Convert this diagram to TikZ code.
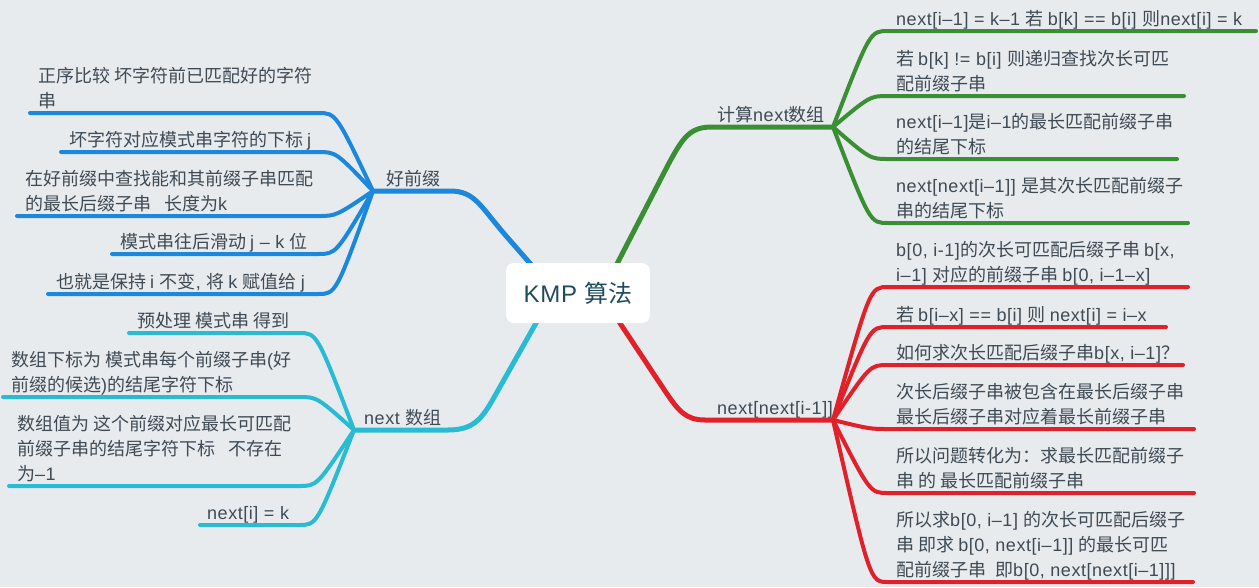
\documentclass[tikz,border=0pt]{standalone}
\usepackage{fontspec}
\setmainfont{Liberation Sans}[LetterSpace=3]
\newfontfamily\cjkf{Noto Sans CJK SC}
\newfontfamily\latinf{Liberation Sans}[LetterSpace=3]
\newXeTeXintercharclass\mycjk
\makeatletter
\count@="4E00
\loop\XeTeXcharclass\count@=\mycjk\advance\count@\@ne\ifnum\count@<"A000\repeat
\count@="3000
\loop\XeTeXcharclass\count@=\mycjk\advance\count@\@ne\ifnum\count@<"3040\repeat
\count@="FF00
\loop\XeTeXcharclass\count@=\mycjk\advance\count@\@ne\ifnum\count@<"FFF0\repeat
\makeatother
\XeTeXinterchartoks 0 \mycjk = {\cjkf}
\XeTeXinterchartoks 4095 \mycjk = {\cjkf}
\XeTeXinterchartoks \mycjk 0 = {\latinf}
\XeTeXinterchartoks 4095 0 = {\latinf}
\XeTeXinterchartokenstate=1
\pgfdeclarelayer{back}
\pgfdeclarelayer{mid}
\pgfsetlayers{back,mid,main}
\definecolor{bgc}{HTML}{E8EBEE}
\definecolor{txt}{HTML}{3E4A54}
\definecolor{ctxt}{HTML}{1F4B5E}
\definecolor{cblue}{HTML}{1B87DD}
\definecolor{ccyan}{HTML}{29BBD3}
\definecolor{cgreen}{HTML}{3A8E34}
\definecolor{cred}{HTML}{E0212A}
\tikzset{
  lbl/.style={anchor=south west, inner sep=0pt, align=left, text=txt,
    font=\fontsize{18}{25}\selectfont, execute at end node=\strut},
  mainline/.style={line width=5pt, line cap=round, line join=round},
  leafline/.style={line width=4pt, line cap=round, line join=round},
  kmpbox/.style={fill=white, rounded corners=8pt, minimum width=144pt,
    minimum height=60pt, inner sep=0pt, text=ctxt, font=\fontsize{24}{28}\selectfont},
}
\begin{document}
\begin{tikzpicture}[x=1pt,y=-1pt]
\begin{pgfonlayer}{back}
\fill[bgc] (0,0) rectangle (1259,587);
\end{pgfonlayer}
\useasboundingbox (0,0) rectangle (1259,587);

% central topic
\node[kmpbox] (kmp) at (578,293) {KMP 算法};

% hubs
\coordinate (hubB) at (373,191);
\coordinate (hubC) at (354,430);
\coordinate (hubG) at (833,127);
\coordinate (hubR) at (833,420);

% branch labels
\node[lbl] (tB) at (386,193.3) {好前缀};
\node[lbl] (tC) at (364,432.3) {next 数组};
\node[lbl] (tG) at (717,129.3) {计算next数组};
\node[lbl] (tR) at (717,422.3) {next[next[i-1]]};

% leaf line ends
\coordinate (b1e) at (30,113);
\coordinate (b2e) at (61,152);
\coordinate (b3e) at (17,216);
\coordinate (b4e) at (112,254);
\coordinate (b5e) at (48,294);
\coordinate (c1e) at (129,333);
\coordinate (c2e) at (3,397);
\coordinate (c3e) at (9,486);
\coordinate (c4e) at (200,525);
\coordinate (g1e) at (1256,31);
\coordinate (g2e) at (1184,96);
\coordinate (g3e) at (1177,159);
\coordinate (g4e) at (1188,223);
\coordinate (r1e) at (1188,287);
\coordinate (r2e) at (1166,327);
\coordinate (r3e) at (1183,365);
\coordinate (r4e) at (1194,429);
\coordinate (r5e) at (1194,493);
\coordinate (r6e) at (1193,582);

% leaf texts
\node[lbl] (b1) at (38,114.8) {正序比较 坏字符前已匹配好的字符\\串};
\node[lbl] (b2) at (69,153.8) {坏字符对应模式串字符的下标 j};
\node[lbl] (b3) at (25,217.8) {在好前缀中查找能和其前缀子串匹配\\的最长后缀子串 \hspace{9pt}长度为k};
\node[lbl] (b4) at (120,255.8) {模式串往后滑动 j – k 位};
\node[lbl] (b5) at (56,295.8) {也就是保持 i 不变, 将 k 赋值给 j};

\node[lbl] (c1) at (137,334.8) {预处理 模式串 得到};
\node[lbl] (c2) at (11,398.8) {数组下标为 模式串每个前缀子串(好\\前缀的候选)的结尾字符下标};
\node[lbl] (c3) at (17,487.8) {数组值为 这个前缀对应最长可匹配\\前缀子串的结尾字符下标 \hspace{9pt}不存在\\为–1};
\node[lbl] (c4) at (207,526.8) {next[i] = k};

\node[lbl] (g1) at (896,32.8) {next[i–1] = k–1 若 b[k] == b[i] 则next[i] = k};
\node[lbl] (g2) at (896,97.8) {若 b[k] != b[i] 则递归查找次长可匹\\配前缀子串};
\node[lbl] (g3) at (896,160.8) {next[i–1]是i–1的最长匹配前缀子串\\的结尾下标};
\node[lbl] (g4) at (896,224.8) {next[next[i–1]] 是其次长匹配前缀子\\串的结尾下标};

\node[lbl] (r1) at (896,288.8) {b[0, i-1]的次长可匹配后缀子串 b[x,\\i–1] 对应的前缀子串 b[0, i–1–x]};
\node[lbl] (r2) at (896,328.8) {若 b[i–x] == b[i] 则 next[i] = i–x};
\node[lbl] (r3) at (896,366.8) {如何求次长匹配后缀子串b[x, i–1]？};
\node[lbl] (r4) at (896,430.8) {次长后缀子串被包含在最长后缀子串\\最长后缀子串对应着最长前缀子串};
\node[lbl] (r5) at (896,494.8) {所以问题转化为：求最长匹配前缀子\\串 的 最长匹配前缀子串};
\node[lbl] (r6) at (896,583.8) {所以求b[0, i–1] 的次长可匹配后缀子\\串 即求 b[0, next[i–1]] 的最长可匹\\配前缀子串 \hspace{5pt}即b[0, next[next[i–1]]]};

\begin{pgfonlayer}{mid}
% main branches
\draw[mainline,cblue] (kmp.center) -- (556,293) -- (507,237) .. controls (480,206) and (475,191) .. (450,191) -- (hubB);
\draw[mainline,ccyan] (kmp.center) -- (553,293) -- (492,401) .. controls (481,420) and (472,430) .. (448,430) -- (hubC);
\draw[mainline,cgreen] (kmp.center) -- (602,293) -- (668,165) .. controls (683,137) and (690,127) .. (712,127) -- (hubG);
\draw[mainline,cred] (kmp.center) -- (600,293) -- (665,391) .. controls (678,410) and (685,420) .. (705,420) -- (hubR);

% blue leaves
\draw[leafline,cblue] (hubB) .. controls (336,113) .. (318,113) -- (b1e);
\draw[leafline,cblue] (hubB) .. controls (336,152) .. (318,152) -- (b2e);
\draw[leafline,cblue] (hubB) .. controls (336,216) .. (318,216) -- (b3e);
\draw[leafline,cblue] (hubB) .. controls (336,254) .. (318,254) -- (b4e);
\draw[leafline,cblue] (hubB) .. controls (336,294) .. (318,294) -- (b5e);
% cyan leaves
\draw[leafline,ccyan] (hubC) .. controls (317,333) .. (299,333) -- (c1e);
\draw[leafline,ccyan] (hubC) .. controls (317,397) .. (299,397) -- (c2e);
\draw[leafline,ccyan] (hubC) .. controls (317,486) .. (299,486) -- (c3e);
\draw[leafline,ccyan] (hubC) .. controls (317,525) .. (299,525) -- (c4e);
% green leaves
\draw[leafline,cgreen] (hubG) .. controls (870,31) .. (888,31) -- (g1e);
\draw[leafline,cgreen] (hubG) .. controls (870,96) .. (888,96) -- (g2e);
\draw[leafline,cgreen] (hubG) .. controls (870,159) .. (888,159) -- (g3e);
\draw[leafline,cgreen] (hubG) .. controls (870,223) .. (888,223) -- (g4e);
% red leaves
\draw[leafline,cred] (hubR) .. controls (870,287) .. (888,287) -- (r1e);
\draw[leafline,cred] (hubR) .. controls (870,327) .. (888,327) -- (r2e);
\draw[leafline,cred] (hubR) .. controls (870,365) .. (888,365) -- (r3e);
\draw[leafline,cred] (hubR) .. controls (870,429) .. (888,429) -- (r4e);
\draw[leafline,cred] (hubR) .. controls (870,493) .. (888,493) -- (r5e);
\draw[leafline,cred] (hubR) .. controls (870,582) .. (888,582) -- (r6e);
\end{pgfonlayer}
\end{tikzpicture}
\end{document}
